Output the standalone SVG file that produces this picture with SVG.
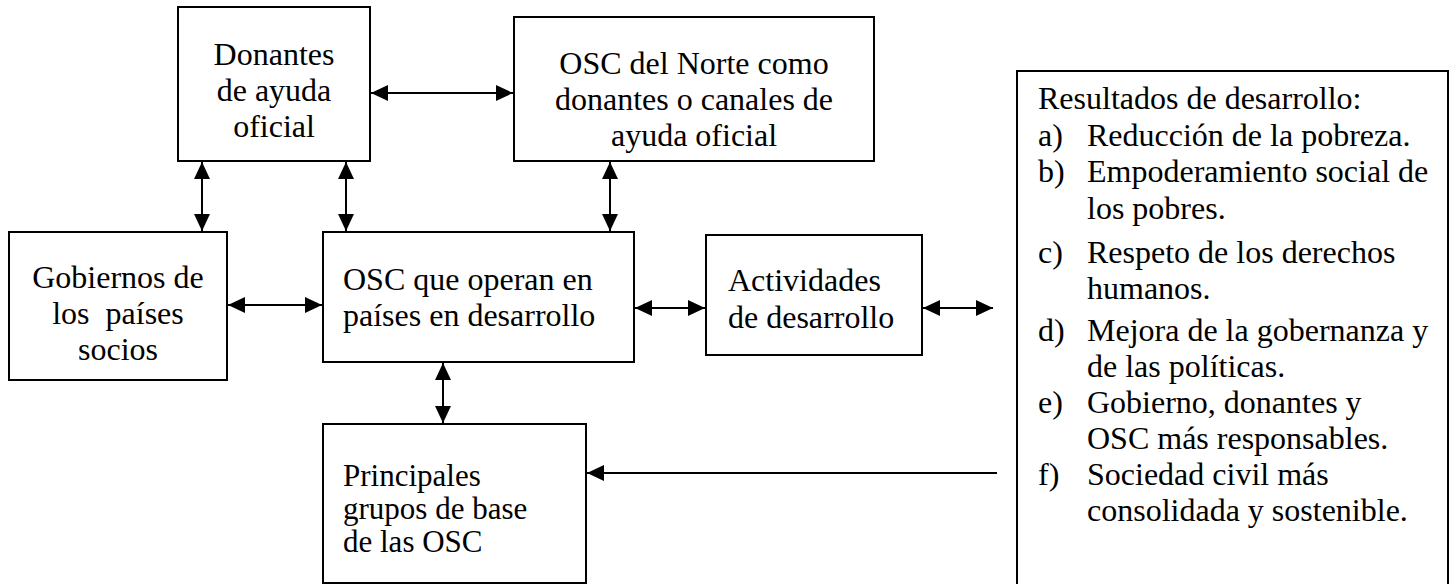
<svg xmlns="http://www.w3.org/2000/svg" width="1452" height="584" viewBox="0 0 1452 584">
<style>
.box{fill:#fff;stroke:#000;stroke-width:2}
.t{font-family:"Liberation Serif","Times New Roman",serif;font-size:32px;fill:#000}
.s{font-size:31px}
.c{text-anchor:middle}
.ln{stroke:#000;stroke-width:2;fill:none}
</style>
<defs>
<marker id="ah" markerUnits="userSpaceOnUse" markerWidth="18" markerHeight="16" refX="17" refY="8" orient="auto-start-reverse" viewBox="0 0 18 16">
<path d="M0,0 L17,8 L0,16 z" fill="#000"/>
</marker>
</defs>
<rect width="1452" height="584" fill="#fff"/>
<g id="donantes">
<rect class="box" x="178" y="7" width="192" height="154"/>
<text class="t c" x="274" y="65">Donantes</text>
<text class="t c" x="274" y="101">de ayuda</text>
<text class="t c" x="274" y="137">oficial</text>
</g>
<g id="osc-norte">
<rect class="box" x="514" y="17" width="360" height="144"/>
<text class="t c" x="694" y="74">OSC del Norte como</text>
<text class="t c" x="694" y="110">donantes o canales de</text>
<text class="t c" x="694" y="146">ayuda oficial</text>
</g>
<g id="gobiernos">
<rect class="box" x="9" y="232" width="218" height="148"/>
<text class="t c" x="118" y="288">Gobiernos de</text>
<text class="t c" x="118" y="324" xml:space="preserve">los  países</text>
<text class="t c" x="118" y="360">socios</text>
</g>
<g id="osc-operan">
<rect class="box" x="323" y="232" width="311" height="130"/>
<text class="t" x="343" y="290">OSC que operan en</text>
<text class="t" x="343" y="326">países en desarrollo</text>
</g>
<g id="actividades">
<rect class="box" x="706" y="235" width="216" height="120"/>
<text class="t" x="728" y="291">Actividades</text>
<text class="t" x="728" y="328">de desarrollo</text>
</g>
<g id="principales">
<rect class="box" x="323" y="424" width="263" height="159"/>
<text class="t s" x="343" y="486">Principales</text>
<text class="t s" x="343" y="519">grupos de base</text>
<text class="t s" x="343" y="552">de las OSC</text>
</g>
<g id="resultados">
<rect class="box" x="1017" y="71" width="431" height="530"/>
<text class="t" x="1038" y="109">Resultados de desarrollo:</text>
<text class="t" x="1038" y="146">a)</text><text class="t" x="1087" y="146">Reducción de la pobreza.</text>
<text class="t" x="1038" y="182">b)</text><text class="t" x="1087" y="182">Empoderamiento social de</text>
<text class="t" x="1087" y="219">los pobres.</text>
<text class="t" x="1038" y="263">c)</text><text class="t" x="1087" y="263">Respeto de los derechos</text>
<text class="t" x="1087" y="299">humanos.</text>
<text class="t" x="1038" y="341">d)</text><text class="t" x="1087" y="341">Mejora de la gobernanza y</text>
<text class="t" x="1087" y="377">de las políticas.</text>
<text class="t" x="1038" y="413">e)</text><text class="t" x="1087" y="413">Gobierno, donantes y</text>
<text class="t" x="1087" y="449">OSC más responsables.</text>
<text class="t" x="1038" y="485">f)</text><text class="t" x="1087" y="485">Sociedad civil más</text>
<text class="t" x="1087" y="521">consolidada y sostenible.</text>
</g>
<g id="connectors">
<line class="ln" x1="371" y1="93" x2="513" y2="93" marker-start="url(#ah)" marker-end="url(#ah)"/>
<line class="ln" x1="202" y1="162" x2="202" y2="231" marker-start="url(#ah)" marker-end="url(#ah)"/>
<line class="ln" x1="346" y1="162" x2="346" y2="231" marker-start="url(#ah)" marker-end="url(#ah)"/>
<line class="ln" x1="610" y1="162" x2="610" y2="231" marker-start="url(#ah)" marker-end="url(#ah)"/>
<line class="ln" x1="228" y1="305" x2="322" y2="305" marker-start="url(#ah)" marker-end="url(#ah)"/>
<line class="ln" x1="635" y1="308" x2="705" y2="308" marker-start="url(#ah)" marker-end="url(#ah)"/>
<line class="ln" x1="923" y1="308" x2="993" y2="308" marker-start="url(#ah)" marker-end="url(#ah)"/>
<line class="ln" x1="443" y1="363" x2="443" y2="423" marker-start="url(#ah)" marker-end="url(#ah)"/>
<line class="ln" x1="997" y1="473" x2="587" y2="473" marker-end="url(#ah)"/>
</g>
</svg>
